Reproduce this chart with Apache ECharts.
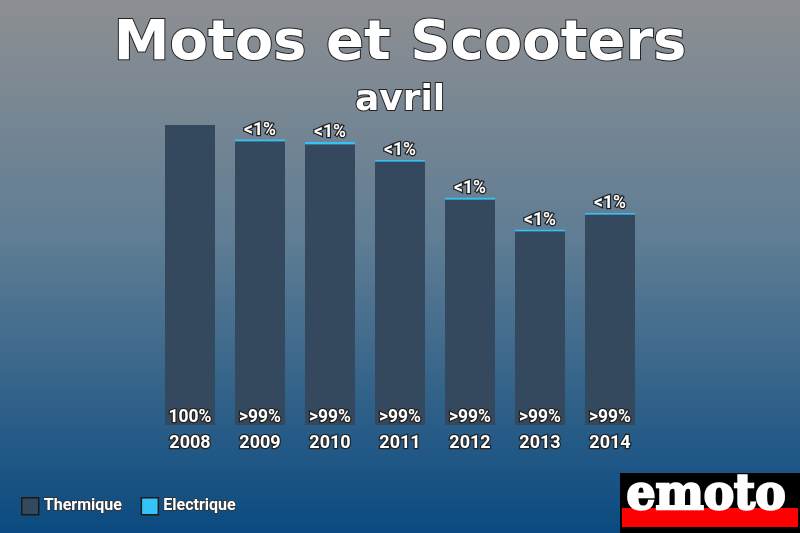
<!DOCTYPE html>
<html><head><meta charset="utf-8">
<script src="https://cdn.jsdelivr.net/npm/echarts@6/dist/echarts.min.js"></script>
<style>html,body{margin:0;padding:0;}#c{width:800px;height:533px;}</style>
</head><body><div id="c"></div>
<script>
const categories = ['2008','2009','2010','2011','2012','2013','2014'];
const thermique = [25000, 23650, 23400, 21950, 18800, 16150, 17550];
const electrique = [0, 150, 180, 130, 140, 130, 120];
const thermLabels = ['100%','>99%','>99%','>99%','>99%','>99%','>99%'];
const elecLabels = ['','<1%','<1%','<1%','<1%','<1%','<1%'];

const chart = echarts.init(document.getElementById('c'));
const lbl = {color:'#fff', fontFamily:'Roboto', fontWeight:'bold', fontSize:17.5, textBorderColor:'#222', textBorderWidth:2.5};
chart.setOption({
  backgroundColor: {type:'linear', x:0, y:0, x2:0, y2:1, colorStops:[
    {offset:0, color:'#8d8f92'}, {offset:0.45, color:'#5f7d94'}, {offset:1, color:'#0a4a80'}]},
  animation:false,
  title:[
    {text:'Motos et Scooters', left:'center', top:11, textStyle:{fontFamily:'DejaVu Sans', fontWeight:'bold', fontSize:56, color:'#fff', textBorderColor:'#222', textBorderWidth:2}},
    {text:'avril', left:'center', top:78, textStyle:{fontFamily:'DejaVu Sans', fontWeight:'bold', fontSize:36, color:'#fff', textBorderColor:'#222', textBorderWidth:2}}
  ],
  legend:{left:16, top:492, itemWidth:17, itemHeight:17, itemGap:18, icon:'rect',
    itemStyle:{borderColor:'#1a1a1a', borderWidth:1.5},
    textStyle:{color:'#fff', fontFamily:'Roboto', fontWeight:'bold', fontSize:16, textBorderColor:'#333', textBorderWidth:1.5},
    data:['Thermique','Electrique']},
  grid:{left:155, right:155, top:125, bottom:108},
  xAxis:{type:'category', data:categories, axisLine:{show:false}, axisTick:{show:false},
    axisLabel:{margin:9, ...lbl, fontSize:18}},
  yAxis:{type:'value', min:0, max:25000, show:false, splitLine:{show:false}},
  series:[
    {name:'Thermique', type:'bar', stack:'s', barWidth:50, data:thermique,
      itemStyle:{color:'#34495e'},
      label:{show:true, position:'insideBottom', distance:-2, ...lbl, formatter:p=>thermLabels[p.dataIndex]}},
    {name:'Electrique', type:'bar', stack:'s', barWidth:50, data:electrique,
      itemStyle:{color:'#33c3f7'},
      label:{show:true, position:'top', distance:0, ...lbl, formatter:p=>elecLabels[p.dataIndex]}}
  ],
  graphic:[
    {type:'rect', shape:{x:620, y:473, width:180, height:60}, style:{fill:'#000'}},
    {type:'rect', shape:{x:622, y:508, width:176, height:19}, style:{fill:'#ff0000'}},
    {type:'text', x:706, y:521, scaleX:0.95, style:{text:'emoto', x:0, y:0, fill:'#fff', font:'bold 48px "DejaVu Serif"', align:'center', verticalAlign:'bottom', stroke:'#fff', lineWidth:2.5}}
  ]
});
</script></body></html>
